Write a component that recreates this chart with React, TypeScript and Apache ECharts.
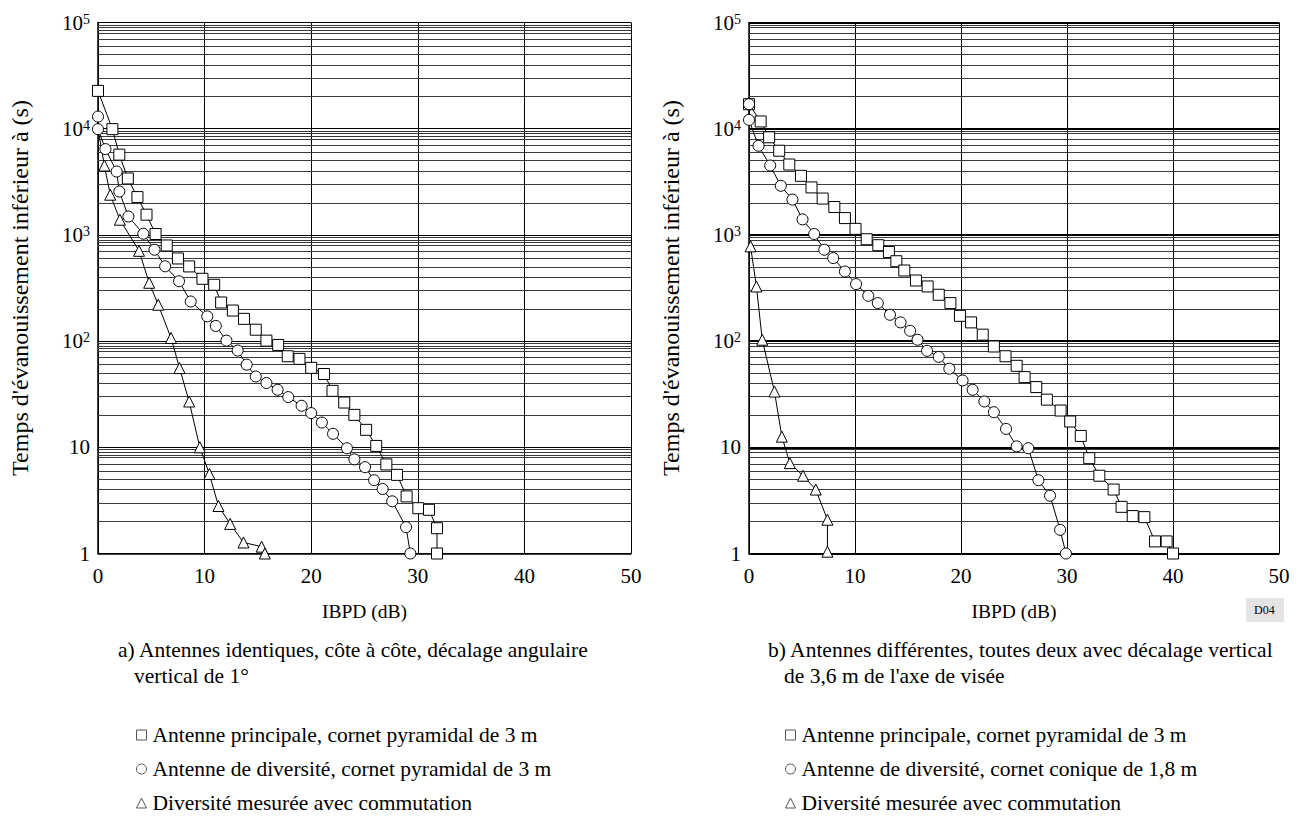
import React, { useEffect, useRef } from "react";
import * as echarts from "echarts";

const FONT = "'Liberation Serif', 'Times New Roman', Times, serif";

// ---------- data (IBPD dB, time s) ----------
const leftSquares: number[][] = [
  [0, 22700], [1.35, 9900], [2.0, 5700], [2.8, 3400], [3.7, 2270], [4.55, 1550], [5.4, 1020],
  [6.45, 795], [7.5, 600], [8.55, 505], [9.8, 386], [10.9, 339], [11.55, 231], [12.65, 194],
  [13.7, 162], [14.8, 128], [15.8, 101], [16.9, 92], [17.8, 72], [18.9, 68], [20.0, 56],
  [21.2, 49], [22.0, 34], [23.1, 26.4], [24.05, 20.2], [25.15, 14.6], [26.1, 10.3], [27.05, 6.9],
  [28.05, 5.5], [28.95, 3.45], [30.05, 2.67], [31.05, 2.58], [31.8, 1.73], [31.8, 1.0],
];
const leftCircles: number[][] = [
  [0, 13000], [0, 9900], [0.7, 6430], [1.75, 3950], [2.0, 2560], [2.85, 1490], [4.25, 1025],
  [5.3, 725], [6.3, 506], [7.6, 366], [8.7, 236], [10.25, 171], [11.05, 139], [12.05, 101],
  [13.1, 81.5], [13.95, 60], [14.8, 46.4], [15.8, 40.3], [16.85, 34.8], [17.85, 29.7],
  [19.1, 24.6], [20.0, 21], [21.0, 17.1], [22.05, 13.4], [23.35, 9.8], [24.05, 7.7],
  [25.05, 6.5], [25.9, 4.9], [26.7, 4.05], [27.6, 3.1], [28.9, 1.77], [29.3, 1.0],
];
const leftTrianglesStart: number[] = [0, 9900];
const leftTriangles: number[][] = [
  [0.6, 4500], [1.15, 2390], [2.05, 1390], [3.85, 708], [4.8, 354], [5.65, 220], [6.85, 107],
  [7.65, 55.7], [8.55, 27], [9.55, 10], [10.45, 5.6], [11.3, 2.8], [12.4, 1.9], [13.65, 1.27],
  [15.35, 1.16], [15.65, 1.0],
];
const rightSquares: number[][] = [
  [0, 17000], [1.1, 11700], [1.9, 8300], [2.85, 6200], [3.8, 4600], [4.9, 3600], [5.9, 2800],
  [6.95, 2200], [8.05, 1830], [9.05, 1440], [10.05, 1140], [11.1, 910], [12.2, 800], [13.2, 690],
  [13.9, 565], [14.65, 462], [15.75, 372], [16.85, 327], [17.9, 273], [19.0, 228], [19.9, 173],
  [20.95, 150], [22.05, 115], [23.1, 89], [24.2, 72], [25.25, 58.5], [26.0, 45.8], [27.1, 36.9],
  [28.1, 28.1], [29.4, 22.2], [30.3, 17.5], [31.3, 12.8], [32.1, 7.9], [33.05, 5.4], [34.4, 4.0],
  [35.15, 2.75], [36.2, 2.25], [37.3, 2.2], [38.3, 1.3], [39.4, 1.3], [40.0, 1.0],
];
const rightCircles: number[][] = [
  [0, 17000], [0, 12100], [0.9, 6900], [2.0, 4500], [3.0, 2900], [4.1, 2150], [5.05, 1400],
  [6.15, 1020], [7.1, 725], [7.95, 605], [9.05, 452], [10.1, 344], [11.25, 267], [12.15, 228],
  [13.3, 177], [14.3, 150], [15.2, 125], [15.9, 103], [16.8, 81], [17.9, 71], [18.9, 55],
  [20.15, 42.6], [21.1, 34.8], [22.2, 27], [23.1, 21.4], [24.25, 14.9], [25.25, 10.2],
  [26.35, 9.8], [27.3, 4.9], [28.4, 3.5], [29.35, 1.67], [29.9, 1.0],
];
const rightTriangles: number[][] = [
  [0.15, 780], [0.7, 327], [1.25, 103], [2.4, 33.5], [3.1, 12.6], [3.85, 7.1], [5.1, 5.4],
  [6.3, 4.0], [7.4, 2.08], [7.4, 1.04],
];

// ---------- axes / texts ----------
const X_MIN = 0;
const X_MAX = 50;
const X_STEP = 10;
const Y_MIN = 1;
const Y_MAX = 100000;
const Y_TICK_LABELS: Record<string, string> = {
  "1": "{base|1}",
  "10": "{base|10}",
  "100": "{base|10}{sup|2}",
  "1000": "{base|10}{sup|3}",
  "10000": "{base|10}{sup|4}",
  "100000": "{base|10}{sup|5}",
};
const MINOR_FACTORS_LEFT = [2, 3, 4, 5, 6, 7, 8, 8.5, 9, 9.5];
const MINOR_FACTORS_RIGHT = [2, 3, 4, 5, 6, 7, 8, 9, 9.5];
const DECADES = [1, 10, 100, 1000, 10000];

const Y_NAME = "Temps d'évanouissement inférieur à (s)";
const X_NAME = "IBPD (dB)";
const NAME_SQ = "Antenne principale, cornet pyramidal de 3 m";
const NAME_CI_A = "Antenne de diversité, cornet pyramidal de 3 m";
const NAME_CI_B = "Antenne de diversité, cornet conique de 1,8 m";
const NAME_TRI = "Diversité mesurée avec commutation";
const CAPTION_A1 = "a) Antennes identiques, côte à côte, décalage angulaire";
const CAPTION_A2 = "vertical de 1°";
const CAPTION_B1 = "b) Antennes différentes, toutes deux avec décalage vertical";
const CAPTION_B2 = "de 3,6 m de l'axe de visée";
const TAG = "D04";

const TEXT_SIZE = 21.5;
const TICK_SIZE = 21;

function minorValues(factors: number[]) {
  const out: number[] = [];
  DECADES.forEach((d) => factors.forEach((f) => out.push(f * d)));
  return out;
}

function xAxis(gridIndex: number) {
  return {
    type: "value",
    gridIndex,
    min: X_MIN,
    max: X_MAX,
    interval: X_STEP,
    name: X_NAME,
    nameLocation: "middle",
    nameGap: 48,
    nameTextStyle: { fontFamily: FONT, fontSize: 19.5, color: "#000" },
    axisLine: { show: true, lineStyle: { color: "#000", width: 1.5 } },
    axisTick: { show: false },
    axisLabel: { fontFamily: FONT, fontSize: TICK_SIZE, color: "#000", margin: 12 },
    splitLine: { show: true, lineStyle: { color: "#000", width: 1 } },
  };
}

function yAxis(gridIndex: number, decadeWidth: number) {
  return {
    type: "log",
    logBase: 10,
    gridIndex,
    min: Y_MIN,
    max: Y_MAX,
    name: Y_NAME,
    nameLocation: "middle",
    nameRotate: 90,
    nameGap: 66,
    nameTextStyle: { fontFamily: FONT, fontSize: 24, color: "#000" },
    axisLine: { show: true, lineStyle: { color: "#000", width: 1.5 } },
    axisTick: { show: false },
    axisLabel: {
      margin: 8,
      formatter: (v: number) => Y_TICK_LABELS[String(Math.round(v))] ?? "",
      rich: {
        base: { fontFamily: FONT, fontSize: TICK_SIZE, color: "#000", lineHeight: 21, verticalAlign: "bottom" },
        sup: { fontFamily: FONT, fontSize: 14, color: "#000", lineHeight: 14, verticalAlign: "top", padding: [0, 0, 11, 0] },
      },
    },
    splitLine: { show: true, lineStyle: { color: "#000", width: decadeWidth } },
  };
}

const markerStyle = { color: "#fff", borderColor: "#000", borderWidth: 1 };

function dataSeries(name: string, data: any[], symbol: string, idx: number) {
  return {
    type: "line",
    name,
    xAxisIndex: idx,
    yAxisIndex: idx,
    data,
    symbol,
    symbolSize: 11,
    showSymbol: true,
    itemStyle: markerStyle,
    lineStyle: { color: "#000", width: 1 },
    z: 5,
    silent: true,
  };
}

function gridSeries(idx: number, factors: number[]) {
  return {
    type: "line",
    name: "grid" + idx,
    xAxisIndex: idx,
    yAxisIndex: idx,
    data: [],
    silent: true,
    z: 1,
    markLine: {
      silent: true,
      animation: false,
      symbol: ["none", "none"],
      label: { show: false },
      lineStyle: { color: "#3a3a3a", width: 1, type: "solid" },
      data: minorValues(factors).map((v) => ({ yAxis: v })),
    },
  };
}

function legend(left: number, circleName: string) {
  const icon = (name: string, shape: string) => ({
    name,
    icon: shape,
    itemStyle: { color: "#fff", borderColor: "#555", borderWidth: 1 },
  });
  return {
    left,
    top: 719,
    orient: "vertical",
    itemGap: 12,
    itemWidth: 10,
    itemHeight: 10,
    selectedMode: false,
    textStyle: { fontFamily: FONT, fontSize: TEXT_SIZE, color: "#000", padding: [0, 0, 0, 1] },
    data: [icon(NAME_SQ, "rect"), icon(circleName, "circle"), icon(NAME_TRI, "triangle")],
  };
}

function captionText(text: string, x: number, y: number) {
  return {
    type: "text",
    left: x,
    top: y,
    silent: true,
    style: { text, fontFamily: FONT, fontSize: TEXT_SIZE, fill: "#000" },
  };
}

export default function App() {
  const ref = useRef<HTMLDivElement>(null);
  useEffect(() => {
    if (!ref.current) return;
    const chart = echarts.init(ref.current, null, { renderer: "svg" });
    const option: any = {
      animation: false,
      backgroundColor: "#fff",
      grid: [
        { left: 98, top: 22.5, width: 533, height: 531 },
        { left: 749, top: 22.5, width: 530, height: 531 },
      ],
      xAxis: [xAxis(0), xAxis(1)],
      yAxis: [yAxis(0, 1), yAxis(1, 2)],
      legend: [legend(131, NAME_CI_A), legend(780, NAME_CI_B)],
      series: [
        gridSeries(0, MINOR_FACTORS_LEFT),
        gridSeries(1, MINOR_FACTORS_RIGHT),
        dataSeries(NAME_SQ, leftSquares, "rect", 0),
        dataSeries(NAME_CI_A, leftCircles, "circle", 0),
        dataSeries(
          NAME_TRI,
          [{ value: leftTrianglesStart, symbol: "none" }, ...leftTriangles],
          "triangle",
          0
        ),
        dataSeries(NAME_SQ, rightSquares, "rect", 1),
        dataSeries(NAME_CI_B, rightCircles, "circle", 1),
        dataSeries(NAME_TRI, rightTriangles, "triangle", 1),
      ],
      graphic: [
        captionText(CAPTION_A1, 118, 639),
        captionText(CAPTION_A2, 134, 665),
        captionText(CAPTION_B1, 768, 639),
        captionText(CAPTION_B2, 784, 665),
        {
          type: "rect",
          left: 1246,
          top: 598,
          silent: true,
          shape: { width: 38, height: 24 },
          style: { fill: "#e4e4e4" },
        },
        {
          type: "text",
          left: 1254,
          top: 604,
          silent: true,
          style: { text: TAG, fontFamily: FONT, fontSize: 12, fill: "#000" },
        },
      ],
    };
    chart.setOption(option);
    return () => chart.dispose();
  }, []);
  return (
    <div
      ref={ref}
      style={{ position: "fixed", left: 0, top: 0, width: "1306px", height: "824px", background: "#fff" }}
    />
  );
}
